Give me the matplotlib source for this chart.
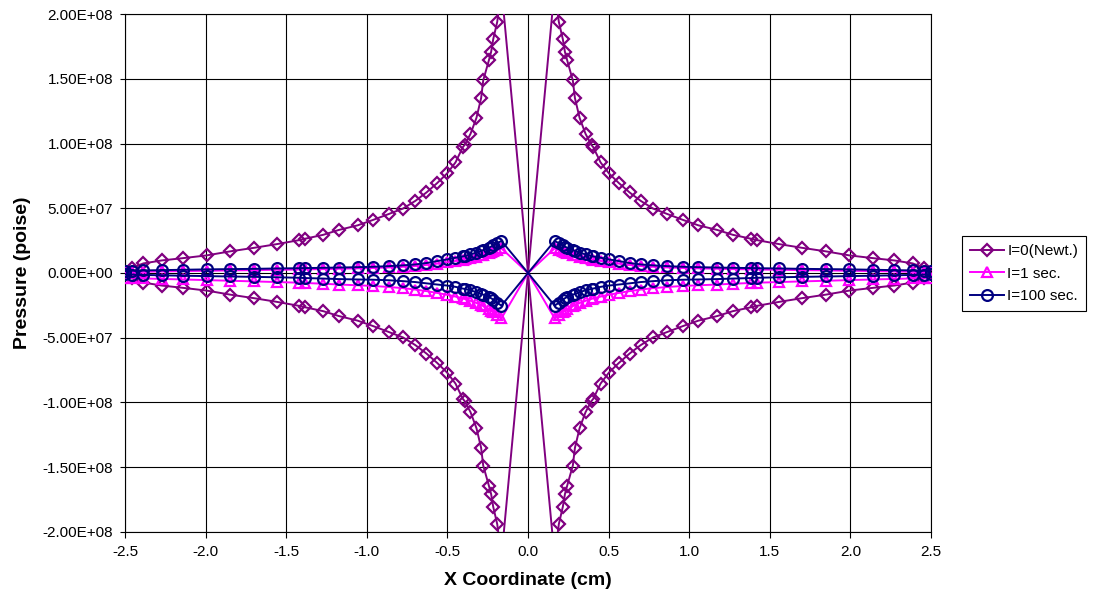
import matplotlib
matplotlib.use("Agg")
import matplotlib.pyplot as plt
from matplotlib.ticker import FuncFormatter
import numpy as np

plt.rcParams['font.family'] = ['Liberation Sans', 'DejaVu Sans']

# x positions of the mesh nodes on the left half (right half is the mirror image)
x_half = [-2.5, -2.458, -2.386, -2.272, -2.138, -1.993, -1.848, -1.697, -1.558,
          -1.419, -1.382, -1.27, -1.175, -1.057, -0.961, -0.865, -0.775, -0.699,
          -0.630, -0.564, -0.502, -0.450, -0.405, -0.394, -0.357, -0.320, -0.291,
          -0.278, -0.243, -0.229, -0.216, -0.191, -0.165]

newt_upper = [0, 4.0e6, 7.4e6, 9.7e6, 1.15e7, 1.36e7, 1.67e7, 1.95e7, 2.23e7,
              2.54e7, 2.65e7, 2.95e7, 3.32e7, 3.68e7, 4.1e7, 4.55e7, 4.98e7, 5.57e7,
              6.22e7, 6.94e7, 7.69e7, 8.54e7, 9.71e7, 9.88e7, 1.074e8, 1.198e8, 1.35e8,
              1.487e8, 1.642e8, 1.707e8, 1.805e8, 1.94e8, 2.2e8]
newt_lower = [-v for v in newt_upper]

i1_upper = [0.5e6, 0.8e6, 1.0e6, 1.2e6, 1.5e6, 1.7e6, 2.0e6, 2.2e6, 2.5e6,
            2.7e6, 2.8e6, 3.0e6, 3.3e6, 3.6e6, 3.9e6, 4.3e6, 4.8e6, 5.4e6,
            6.2e6, 7.2e6, 8.3e6, 9.3e6, 1.02e7, 1.05e7, 1.14e7, 1.26e7, 1.36e7,
            1.41e7, 1.55e7, 1.62e7, 1.69e7, 1.8e7, 1.9e7]
i1_lower = [-3.5e6, -3.8e6, -4.2e6, -4.6e6, -5.0e6, -5.5e6, -6.0e6, -6.5e6, -7.0e6,
            -7.5e6, -7.7e6, -8.3e6, -8.9e6, -9.5e6, -1.0e7, -1.08e7, -1.17e7, -1.28e7,
            -1.4e7, -1.54e7, -1.68e7, -1.82e7, -1.96e7, -2.0e7, -2.15e7, -2.32e7, -2.48e7,
            -2.56e7, -2.8e7, -2.9e7, -3.0e7, -3.25e7, -3.5e7]

i100_upper = [1.5e6, 1.8e6, 2.0e6, 2.2e6, 2.5e6, 2.8e6, 3.0e6, 3.2e6, 3.5e6,
              3.7e6, 3.8e6, 4.0e6, 4.2e6, 4.5e6, 4.8e6, 5.3e6, 5.9e6, 6.6e6,
              7.7e6, 9.2e6, 1.05e7, 1.18e7, 1.28e7, 1.31e7, 1.43e7, 1.58e7, 1.7e7,
              1.77e7, 1.95e7, 2.04e7, 2.13e7, 2.3e7, 2.48e7]
i100_lower = [-1.0e6, -1.2e6, -1.5e6, -1.8e6, -2.1e6, -2.4e6, -2.7e6, -3.0e6, -3.3e6,
              -3.7e6, -3.9e6, -4.3e6, -4.7e6, -5.0e6, -5.2e6, -5.6e6, -6.3e6, -7.0e6,
              -8.0e6, -8.9e6, -9.7e6, -1.07e7, -1.2e7, -1.23e7, -1.33e7, -1.49e7, -1.62e7,
              -1.67e7, -1.85e7, -1.95e7, -2.05e7, -2.3e7, -2.52e7]

series_labels = ["I=0(Newt.)", "I=1 sec.", "I=100 sec."]
series_data = [(newt_upper, newt_lower), (i1_upper, i1_lower), (i100_upper, i100_lower)]
colors = ["#800080", "#FF00FF", "#000080"]
markers = ["D", "^", "o"]
msizes = [6.2, 7.0, 7.8]

x_ticks = [-2.5, -2.0, -1.5, -1.0, -0.5, 0.0, 0.5, 1.0, 1.5, 2.0, 2.5]
y_ticks = [-2.0e8, -1.5e8, -1.0e8, -5.0e7, 0.0, 5.0e7, 1.0e8, 1.5e8, 2.0e8]

xh = np.array(x_half)
n = len(xh)
x_full = np.concatenate([xh, [0.0], -xh[::-1]])
mark_idx = [i for i in range(2 * n + 1) if i != n]


def full_branch(left_vals, right_vals):
    return np.concatenate([np.array(left_vals), [0.0], np.array(right_vals)[::-1]])


fig = plt.figure(figsize=(10.93, 5.99), dpi=100)
ax = fig.add_axes([0.1144, 0.1119, 0.8518 - 0.1144, 0.9766 - 0.1119])

handles = []
for (up, lo), lab, c, m, ms in zip(series_data, series_labels, colors, markers, msizes):
    kw = dict(color=c, lw=1.4, marker=m, markersize=ms, markerfacecolor='none',
              markeredgecolor=c, markeredgewidth=1.6, markevery=mark_idx, zorder=3)
    h, = ax.plot(x_full, full_branch(up, lo), label=lab, **kw)
    ax.plot(x_full, full_branch(lo, up), **kw)
    handles.append(h)

ax.set_xlim(-2.5, 2.5)
ax.set_ylim(-2.0e8, 2.0e8)
ax.set_xticks(x_ticks)
ax.set_yticks(y_ticks)
ax.xaxis.set_major_formatter(FuncFormatter(lambda v, p: f"{v:.1f}".replace("-0.0", "0.0")))
ax.yaxis.set_major_formatter(FuncFormatter(lambda v, p: f"{v:.2E}".replace("-0.00E+00", "0.00E+00")))
ax.grid(True, color='black', lw=0.8, zorder=0)
ax.set_axisbelow(True)
for s in ax.spines.values():
    s.set_color('black')
    s.set_linewidth(0.8)
ax.tick_params(axis='x', direction='out', length=4.5, width=0.8, labelsize=11, pad=5)
ax.tick_params(axis='y', direction='out', length=3.5, width=0.8, labelsize=11, pad=5)

ax.set_xlabel("X Coordinate (cm)", fontsize=14, fontweight='bold', labelpad=9)
ax.set_ylabel("Pressure (poise)", fontsize=14, fontweight='bold', labelpad=8)

leg = fig.legend(handles=handles, loc='center left', bbox_to_anchor=(0.8805, 0.5434),
                 fontsize=11, frameon=True, fancybox=False, edgecolor='black',
                 framealpha=1, borderpad=0.5, handlelength=2.2, handletextpad=0.25,
                 labelspacing=0.55, borderaxespad=0)
leg.get_frame().set_linewidth(0.8)

fig.savefig("out.png", dpi=100)
